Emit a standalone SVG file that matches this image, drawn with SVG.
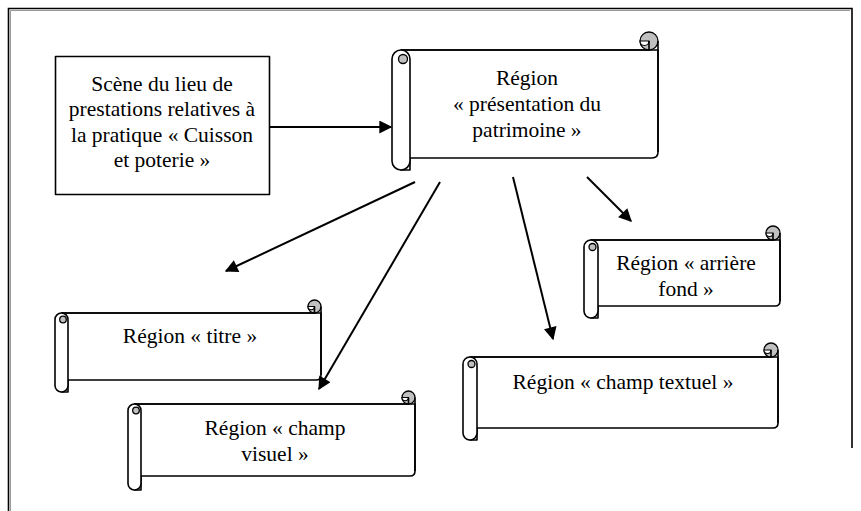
<svg xmlns="http://www.w3.org/2000/svg" width="861" height="511" viewBox="0 0 861 511">
<defs>
<style>
.ln{fill:none;stroke:#000;stroke-width:1.6;stroke-linejoin:round}
.wf{fill:#fff;stroke:#000;stroke-width:1.6;stroke-linejoin:round}
.gf{fill:#c0c0c0;stroke:#000;stroke-width:1.3}
.ar{fill:none;stroke:#000;stroke-width:2;marker-end:url(#ah)}
text{font-family:"Liberation Serif","Times New Roman",serif;font-size:21.5px;fill:#000;text-anchor:middle}
</style>
<marker id="ah" viewBox="0 0 10 10" refX="9" refY="5" markerWidth="7.5" markerHeight="6.5" markerUnits="strokeWidth" orient="auto">
<path d="M0,0 L10,5 L0,10 Z" fill="#000"/>
</marker>
</defs>
<rect width="861" height="511" fill="#fff"/>
<path d="M8.5,511 V8.5 H852 V448" fill="none" stroke="#000" stroke-width="1.6"/>
<path d="M10.5,511 V10.5 H850" fill="none" stroke="#999" stroke-width="1"/>

<g id="scene">
<rect x="55.5" y="56.5" width="214" height="138" class="wf"/>
<text x="162" y="91">Scène du lieu de</text>
<text x="162" y="116">prestations relatives à</text>
<text x="162" y="142">la pratique « Cuisson</text>
<text x="162" y="167">et poterie »</text>
</g>

<g id="presentation">
<path class="wf" d="M401,50 H658 V152 Q658,158 652,158 H410 V170 H401 Z"/>
<path class="ln" d="M401,50 H649 V41"/>
<circle class="gf" cx="649" cy="41" r="9"/>
<path d="M640,41 A4.5,4.5 0 0 0 649,41 Z" fill="#fff" stroke="#000" stroke-width="1.2"/>
<path class="ln" d="M649,41 V50 M658,41 V152"/>
<path class="wf" d="M392,59 V161 A9,9 0 0 0 410,161 V59 A9,9 0 0 0 392,59 Z"/>
<circle class="gf" cx="403" cy="59" r="4.5"/>
<text x="527" y="85">Région</text>
<text x="527" y="111">« présentation du</text>
<text x="527" y="137">patrimoine »</text>
</g>

<g id="titre">
<path class="wf" d="M61.5,313 H321 V375 Q321,380 316,380 H68 V392 H61.5 Z"/>
<path class="ln" d="M61.5,313 H314.5 V306.5"/>
<circle class="gf" cx="314.5" cy="306.5" r="6.5"/>
<path d="M308,306.5 A3.25,3.25 0 0 0 314.5,306.5 Z" fill="#fff" stroke="#000" stroke-width="1.1"/>
<path class="ln" d="M314.5,306.5 V313 M321,306.5 V375"/>
<path class="wf" d="M55,319.5 V385.5 A6.5,6.5 0 0 0 68,385.5 V319.5 A6.5,6.5 0 0 0 55,319.5 Z"/>
<circle class="gf" cx="63" cy="319.5" r="3.3"/>
<text x="190" y="343">Région « titre »</text>
</g>

<g id="visuel">
<path class="wf" d="M134.5,404 H415 V471 Q415,476 410,476 H141 V490 H134.5 Z"/>
<path class="ln" d="M134.5,404 H408.5 V397.5"/>
<circle class="gf" cx="408.5" cy="397.5" r="6.5"/>
<path d="M402,397.5 A3.25,3.25 0 0 0 408.5,397.5 Z" fill="#fff" stroke="#000" stroke-width="1.1"/>
<path class="ln" d="M408.5,397.5 V404 M415,397.5 V471"/>
<path class="wf" d="M128,410.5 V483.5 A6.5,6.5 0 0 0 141,483.5 V410.5 A6.5,6.5 0 0 0 128,410.5 Z"/>
<circle class="gf" cx="136" cy="410.5" r="3.3"/>
<text x="275" y="435">Région « champ</text>
<text x="275" y="461">visuel »</text>
</g>

<g id="textuel">
<path class="wf" d="M470,357 H778 V423 Q778,428 773,428 H477 V440 H470 Z"/>
<path class="ln" d="M470,357 H771 V350"/>
<circle class="gf" cx="771" cy="350" r="7"/>
<path d="M764,350 A3.5,3.5 0 0 0 771,350 Z" fill="#fff" stroke="#000" stroke-width="1.1"/>
<path class="ln" d="M771,350 V357 M778,350 V423"/>
<path class="wf" d="M463,364 V433 A7,7 0 0 0 477,433 V364 A7,7 0 0 0 463,364 Z"/>
<circle class="gf" cx="471.5" cy="364" r="3.5"/>
<text x="623" y="389">Région « champ textuel »</text>
</g>

<g id="arriere">
<path class="wf" d="M591,240 H780 V301 Q780,306 775,306 H598 V318 H591 Z"/>
<path class="ln" d="M591,240 H773 V233"/>
<circle class="gf" cx="773" cy="233" r="7"/>
<path d="M766,233 A3.5,3.5 0 0 0 773,233 Z" fill="#fff" stroke="#000" stroke-width="1.1"/>
<path class="ln" d="M773,233 V240 M780,233 V301"/>
<path class="wf" d="M584,247 V311 A7,7 0 0 0 598,311 V247 A7,7 0 0 0 584,247 Z"/>
<circle class="gf" cx="592.5" cy="247" r="3.5"/>
<text x="686" y="270">Région « arrière</text>
<text x="686" y="296">fond »</text>
</g>

<g id="connectors">
<path class="ar" d="M270,127 H391"/>
<path class="ar" d="M415,182 L226,271"/>
<path class="ar" d="M440,182 L319,389"/>
<path class="ar" d="M513,177 L553,339"/>
<path class="ar" d="M587,177 L631,221"/>
</g>
</svg>
